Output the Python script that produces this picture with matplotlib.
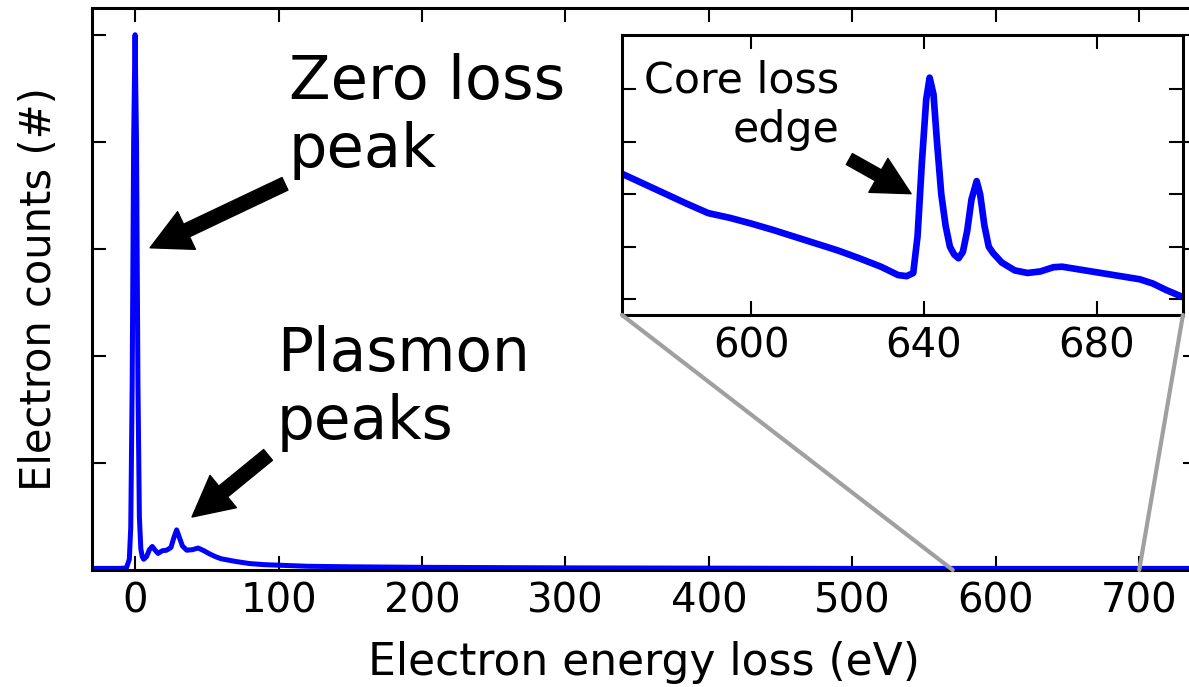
"""
EELS spectrum: zero loss peak, plasmon peaks and a zoomed core loss edge.
"""

import numpy as np
import matplotlib
matplotlib.use('Agg')
import matplotlib.pyplot as plt
from matplotlib.patches import ConnectionPatch


# low-loss / full spectrum (normalised to the ZLP)
energy_main = [-30, -10, -6, -4, -3, -2, -1, 0, 1, 2, 3, 4, 5, 6, 8, 10, 12, 14,
               16, 19, 22, 25, 27, 29, 31, 33, 36, 40, 44, 48, 52, 56, 60, 70,
               80, 90, 100, 120, 150, 200, 300, 400, 500, 600, 740]
counts_main = [0.003, 0.003, 0.004, 0.02, 0.08, 0.35, 0.8, 1.0, 0.8, 0.35, 0.1,
               0.04, 0.025, 0.02, 0.025, 0.038, 0.044, 0.037, 0.031, 0.036,
               0.037, 0.042, 0.06, 0.075, 0.06, 0.045, 0.037, 0.038, 0.041,
               0.036, 0.03, 0.025, 0.021, 0.016, 0.012, 0.010, 0.009, 0.007,
               0.006, 0.005, 0.004, 0.0035, 0.003, 0.003, 0.003]

# core loss region (arbitrary units, inset)
energy_core = [570, 575, 580, 585, 590, 595, 600, 605, 610, 615, 620, 625, 630,
               634, 636, 637.5, 638.5, 639.5, 640.5, 641.3, 642.2, 643, 644,
               645, 646, 647, 648, 649, 650, 651, 652.2, 653, 654, 655, 656,
               658, 661, 664, 667, 670, 672, 675, 678, 681, 684, 687, 690, 693,
               696, 700]
counts_core = [3.39, 3.2, 3.01, 2.82, 2.64, 2.55, 2.44, 2.32, 2.19, 2.06, 1.93,
               1.78, 1.62, 1.46, 1.44, 1.5, 2.2, 3.6, 4.8, 5.22, 4.9, 4.0, 3.0,
               2.4, 2.0, 1.85, 1.78, 1.9, 2.3, 2.9, 3.25, 3.0, 2.4, 2.0, 1.88,
               1.7, 1.55, 1.5, 1.53, 1.61, 1.62, 1.58, 1.54, 1.5, 1.46, 1.42,
               1.38, 1.3, 1.18, 1.04]

main_xticks = [0, 100, 200, 300, 400, 500, 600, 700]
main_yticks = [0, 0.2, 0.4, 0.6, 0.8, 1.0]
core_xticks = [600, 640, 680]
core_yticks = [1, 2, 3, 4, 5]

TICK_FS = 29

arrow_kw = dict(facecolor='black', edgecolor='black', width=10,
                headwidth=30, headlength=29, shrink=0)


def style_axes(ax):
    ax.tick_params(which='major', direction='in', top=True, right=True,
                   length=10, width=1.5, labelsize=TICK_FS, pad=8)
    for sp in ax.spines.values():
        sp.set_linewidth(2.2)


fig = plt.figure(figsize=(11.89, 6.87), dpi=100)

# main axes (right edge sits just outside the figure, as in the original crop)
ax = fig.add_axes([0.0774, 0.1703, 0.929, 0.8181])
ax.plot(energy_main, counts_main, color='blue', lw=3.6)
ax.set_xlim(-30, 740)
ax.set_ylim(0, 1.05)
ax.set_xticks(main_xticks)
ax.set_yticks(main_yticks)
ax.set_yticklabels([])
style_axes(ax)
ax.set_xlabel('Electron energy loss (eV)', fontsize=31.7, labelpad=14)
ax.set_ylabel('Electron counts (#)', fontsize=30, labelpad=15)

ax.text(107.3, 0.966, 'Zero loss\npeak', fontsize=43.7, ha='left', va='top')
ax.annotate('', xy=(10.5, 0.602), xytext=(104.5, 0.7215), arrowprops=arrow_kw)

ax.text(99, 0.4585, 'Plasmon\npeaks', fontsize=43, ha='left', va='top')
ax.annotate('', xy=(39.7, 0.099), xytext=(92.7, 0.215), arrowprops=arrow_kw)

# inset with the core loss edge
axins = fig.add_axes([0.5231, 0.5415, 0.4718, 0.4076])
axins.plot(energy_core, counts_core, color='blue', lw=4.8)
axins.set_xlim(570, 700)
axins.set_ylim(0.7, 6.033)
axins.set_xticks(core_xticks)
axins.set_yticks(core_yticks)
axins.set_yticklabels([])
style_axes(axins)
axins.text(620.3, 5.557, 'Core loss\nedge', fontsize=30.8, ha='right',
           va='top', multialignment='right')
axins.annotate('', xy=(637.0, 3.01), xytext=(622.7, 3.67),
               arrowprops=dict(arrow_kw, width=9, headwidth=28, headlength=27))

# grey connectors from the main x-range to the inset corners
for x_main, x_ins in [(570, 0), (700, 1)]:
    con = ConnectionPatch(xyA=(x_main, 0), coordsA=ax.transData,
                          xyB=(x_ins, 0), coordsB=axins.transAxes,
                          color='#a0a0a0', lw=3)
    fig.add_artist(con)

fig.savefig('out.png', dpi=100)
